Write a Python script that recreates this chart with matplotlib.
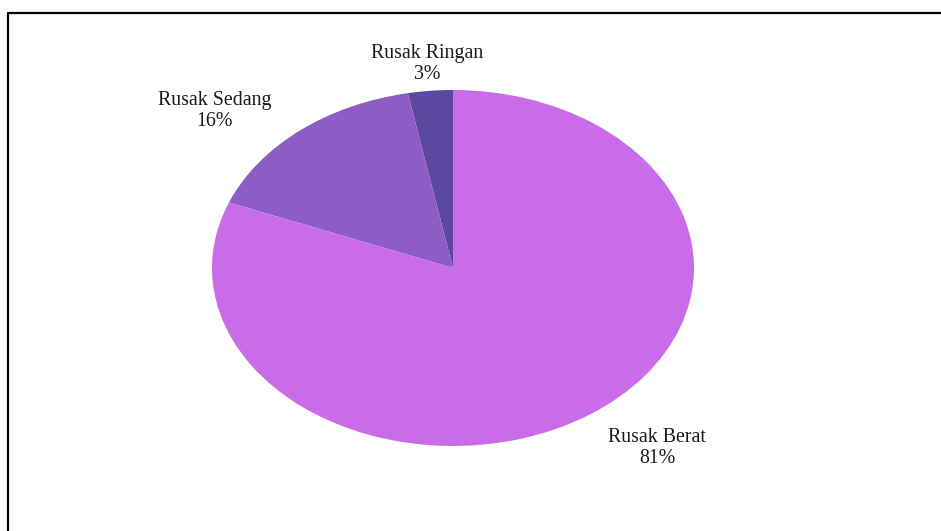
import matplotlib
matplotlib.use("Agg")
import matplotlib.pyplot as plt
from matplotlib.lines import Line2D

# Damage categories and their shares (%)
categories = ["Rusak Ringan", "Rusak Sedang", "Rusak Berat"]
shares = [3, 16, 81]
colors = ["#5B48A0", "#8D5CC5", "#C86DE7"]

# Label anchor points in axes fraction (pie box spans 0..1)
label_pos = [(0.446, 1.073), (0.005, 0.941), (0.923, -0.006)]

W, H = 941, 531
fig = plt.figure(figsize=(W / 100, H / 100), dpi=100)
fig.patch.set_facecolor("white")

# Elliptical pie: axes box matches the ellipse bounds
left, right, top, bottom = 212, 694, 90, 446
ax = fig.add_axes([left / W, (H - bottom) / H, (right - left) / W, (bottom - top) / H])
ax.pie(shares, colors=colors, startangle=90, counterclock=True,
       wedgeprops=dict(linewidth=0))
ax.set_aspect("auto")
ax.set_xlim(-1, 1)
ax.set_ylim(-1, 1)
ax.axis("off")

for name, val, (x, y) in zip(categories, shares, label_pos):
    ax.text(x, y, f"{name}\n{val}%", transform=ax.transAxes,
            ha="center", va="center", fontsize=14.3, family="Liberation Serif",
            color="#1a1a1a", linespacing=1.15)

# Frame along top and left edges
fig.add_artist(Line2D([8 / W, 8 / W, 1.0], [0.0, 1 - 13 / H, 1 - 13 / H],
                      transform=fig.transFigure, color="black", linewidth=1.6))

fig.savefig("out.png", dpi=100)
